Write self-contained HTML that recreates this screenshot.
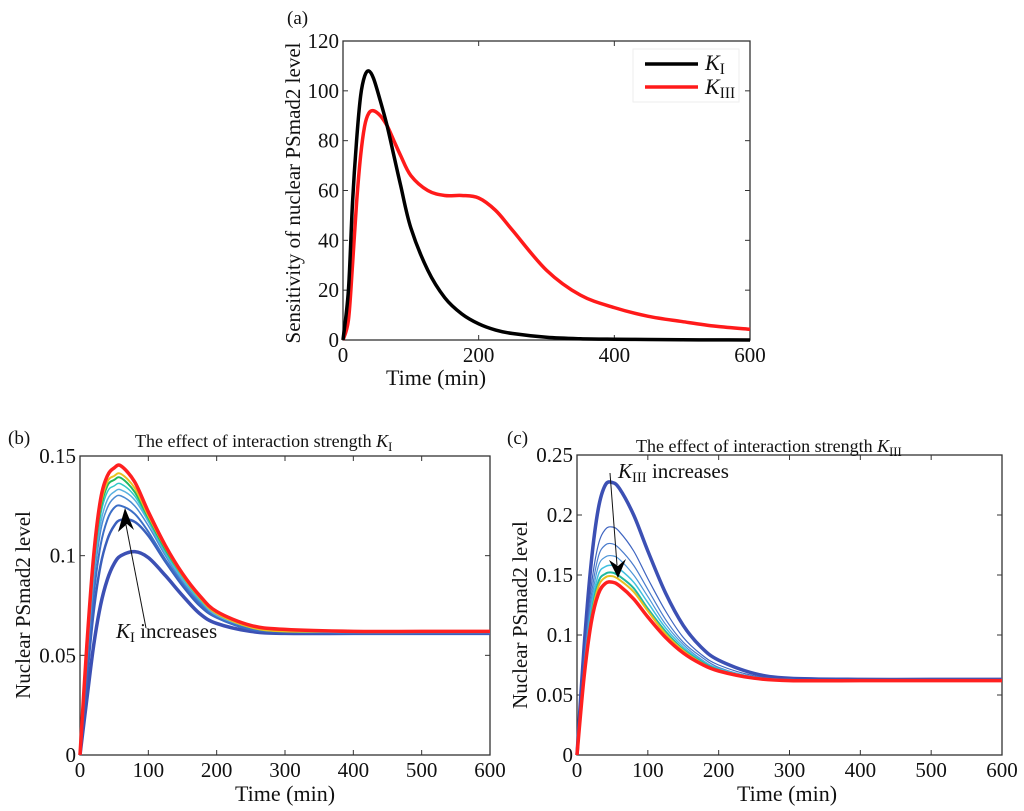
<!DOCTYPE html>
<html><head><meta charset="utf-8"><style>
html,body{margin:0;padding:0;background:#fff;}
svg{display:block;font-family:"Liberation Serif",serif;}
</style></head><body>
<svg id="fig" width="1024" height="811" viewBox="0 0 1024 811" xmlns="http://www.w3.org/2000/svg">
<g id="pa"></g>
<g id="pb"></g>
<g id="pc"></g>
</svg>
<script>
// Panel (a) data
const timeA = [0,8,14,20,26,32,38,45,55,65,75,85,100,125,150,175,200,225,250,300,350,400,450,500,550,600];
const kI   = [0,20,55,80,98,106,108,105,96,86,74,62,45,28,17,10.5,6.5,4,2.6,1.1,0.5,0.3,0.2,0.1,0.05,0];
const kIII = [0,8,30,55,74,86,91,92,90,86,80,74,66,60,58,58,57,52,44,28,18,13,9.5,7.4,5.5,4.3];
const xTicksA = [0,200,400,600];
const yTicksA = [0,20,40,60,80,100,120];

// Panel (b)/(c) shared time points
const timeBC = [0,10,20,30,40,50,60,80,100,125,150,175,200,250,300,400,500,600];
const xTicksBC = [0,100,200,300,400,500,600];
const yTicksB = [0,0.05,0.1,0.15];
const yTicksC = [0,0.05,0.1,0.15,0.2,0.25];

// Panel (b) curves, from lowest (blue) to highest (red)
const b1 = [0,.028,.055,.075,.088,.096,.100,.102,.099,.090,.080,.071,.066,.062,.061,.061,.061,.061];
const b2 = [0,.038,.072,.095,.108,.115,.118,.117,.110,.097,.085,.075,.069,.063,.0615,.061,.061,.061];
const b3 = [0,.043,.080,.105,.118,.124,.125,.121,.112,.098,.086,.076,.069,.063,.062,.061,.061,.061];
const b4 = [0,.046,.086,.112,.124,.129,.130,.125,.115,.100,.087,.077,.070,.064,.062,.0615,.0615,.0615];
const b5 = [0,.048,.090,.116,.128,.132,.133,.128,.117,.101,.088,.078,.070,.064,.062,.0615,.0615,.0615];
const b6 = [0,.050,.093,.120,.132,.135,.136,.130,.118,.102,.089,.078,.071,.064,.062,.062,.062,.062];
const b7 = [0,.052,.096,.123,.135,.138,.139,.132,.119,.103,.090,.079,.071,.064,.062,.062,.062,.062];
const b8 = [0,.053,.098,.125,.137,.140,.141,.134,.120,.104,.090,.079,.071,.064,.062,.062,.062,.062];
const b9 = [0,.055,.100,.128,.140,.144,.145,.137,.122,.105,.091,.080,.072,.065,.063,.062,.062,.062];

// Panel (c) curves, from highest (blue) to lowest (red)
const c1 = [0,.090,.160,.205,.225,.227,.222,.200,.170,.135,.108,.090,.079,.068,.064,.063,.063,.063];
const c2 = [0,.080,.140,.175,.188,.190,.186,.170,.147,.120,.098,.084,.075,.066,.063,.063,.063,.063];
const c3 = [0,.076,.132,.165,.175,.176,.172,.158,.138,.113,.094,.082,.073,.065,.063,.062,.062,.062];
const c4 = [0,.073,.126,.157,.165,.166,.163,.150,.132,.109,.092,.080,.072,.065,.063,.062,.062,.062];
const c5 = [0,.070,.121,.150,.157,.158,.155,.144,.127,.106,.090,.079,.072,.065,.062,.062,.062,.062];
const c6 = [0,.068,.116,.144,.151,.152,.149,.139,.122,.103,.088,.078,.071,.064,.062,.062,.062,.062];
const c7 = [0,.067,.113,.140,.148,.149,.146,.136,.120,.101,.087,.077,.070,.064,.062,.062,.062,.062];
const c8 = [0,.065,.110,.134,.143,.144,.141,.130,.115,.098,.085,.076,.070,.064,.062,.062,.062,.062];

const NS = "http://www.w3.org/2000/svg";
function mk(tag, attrs, parent, text){
  const e = document.createElementNS(NS, tag);
  for (const k in attrs) e.setAttribute(k, attrs[k]);
  if (text !== undefined) e.textContent = text;
  parent.appendChild(e);
  return e;
}
function pathFrom(xs, ys, sx, sy){
  const P = xs.map((x,i)=>[sx(x), sy(ys[i])]);
  let d = "M"+P[0][0].toFixed(2)+","+P[0][1].toFixed(2);
  for (let i=0;i<P.length-1;i++){
    const p0=P[Math.max(0,i-1)], p1=P[i], p2=P[i+1], p3=P[Math.min(P.length-1,i+2)];
    const c1x=p1[0]+(p2[0]-p0[0])/6, c1y=p1[1]+(p2[1]-p0[1])/6;
    const c2x=p2[0]-(p3[0]-p1[0])/6, c2y=p2[1]-(p3[1]-p1[1])/6;
    d += " C"+c1x.toFixed(2)+","+c1y.toFixed(2)+" "+c2x.toFixed(2)+","+c2y.toFixed(2)+" "+p2[0].toFixed(2)+","+p2[1].toFixed(2);
  }
  return d;
}
function axes(g, box, xT, yT, xMax, yMax, yFmt){
  const sx = v => box.x0 + (v/xMax)*(box.x1-box.x0);
  const sy = v => box.y1 - (v/yMax)*(box.y1-box.y0);
  const frame = mk("rect",{x:box.x0,y:box.y0,width:box.x1-box.x0,height:box.y1-box.y0,fill:"none",stroke:"#333","stroke-width":1.3},g);
  
  
  xT.forEach(v=>{
    const x=sx(v);
    mk("line",{x1:x,y1:box.y1,x2:x,y2:box.y1-5,stroke:"#333"},g);
    mk("line",{x1:x,y1:box.y0,x2:x,y2:box.y0+5,stroke:"#333"},g);
    const t = mk("text",{x:x,y:box.y1+22,"font-size":21,"text-anchor":"middle",fill:"#111"},g,String(v));
    
    
  });
  yT.forEach(v=>{
    const y=sy(v);
    mk("line",{x1:box.x0,y1:y,x2:box.x0+5,y2:y,stroke:"#333"},g);
    mk("line",{x1:box.x1,y1:y,x2:box.x1-5,y2:y,stroke:"#333"},g);
    const t = mk("text",{x:box.x0-4,y:y+7,"font-size":21,"text-anchor":"end",fill:"#111"},g,yFmt(v));
    
    
  });
  return {sx,sy};
}
function curve(g, xs, ys, s, color, w, name){
  const p = mk("path",{d:pathFrom(xs,ys,s.sx,s.sy),fill:"none",stroke:color,"stroke-width":w,"stroke-linejoin":"round"},g);
  
  
}
function label(g, x, y, txt, size, name, extra){
  const t = mk("text", Object.assign({x:x,y:y,"font-size":size,fill:"#111"}, extra||{}), g, txt);
  
  
  return t;
}
function kLabel(g, x, y, pre, sub, post, size, name){
  const t = mk("text",{x:x,y:y,"font-size":size,fill:"#111"},g);
  
  
  if (pre) mk("tspan",{},t,pre);
  mk("tspan",{"font-style":"italic"},t,"K");
  mk("tspan",{"font-size":size*0.7,dy:4},t,sub);
  if (post) mk("tspan",{dy:-4},t,post);
  return t;
}

// ---------- Panel A ----------
(function(){
  const g = document.getElementById("pa");
  const box = {x0:343,x1:750,y0:41,y1:340};
  const s = axes(g, box, xTicksA, yTicksA, 600, 120, v=>String(v));
  curve(g, timeA, kIII, s, "#ff1a1a", 3.5, "line-k3");
  curve(g, timeA, kI, s, "#000", 3.5, "line-k1");
  label(g, 287, 24, "(a)", 19, "panel-a-label");
  label(g, 436, 385, "Time (min)", 22, "x-axis-title", {"text-anchor":"middle"});
  label(g, 0, 0, "Sensitivity of nuclear PSmad2 level", 21, "y-axis-title", {"text-anchor":"middle", transform:"translate(300,193) rotate(-90)"});
  const lg = mk("g",{},g);
  
  
  mk("rect",{x:633,y:49,width:106,height:53,fill:"#fff",stroke:"#eee"},lg);
  mk("line",{x1:645,y1:64,x2:698,y2:64,stroke:"#000","stroke-width":3.5},lg);
  mk("line",{x1:645,y1:87,x2:698,y2:87,stroke:"#ff1a1a","stroke-width":3.5},lg);
  kLabel(lg, 705, 70, "", "I", "", 22, "legend-entry-k1");
  kLabel(lg, 705, 94, "", "III", "", 22, "legend-entry-k3");
})();

// ---------- Panel B ----------
(function(){
  const g = document.getElementById("pb");
  const box = {x0:80,x1:490,y0:456,y1:755};
  const s = axes(g, box, xTicksBC, yTicksB, 600, 0.15, v=>String(v));
  const series = [b1,b2,b3,b4,b5,b6,b7,b8,b9];
  const cols = ["#3c50b4","#3a5fbc","#3b6ec6","#4a8ad2","#5ab0e0","#30c8c8","#20b860","#e8c020","#ff2020"];
  const ws = [3.5,2.5,2,1.5,1.5,1.5,2,2,3.5];
  series.forEach((d,i)=>curve(g, timeBC, d, s, cols[i], ws[i], "curve-b-"+(i+1)));
  label(g, 8, 444, "(b)", 19, "panel-b-label");
  kLabel(g, 135, 447, "The effect of interaction strength ", "I", "", 18, "panel-b-title");
  label(g, 285, 801, "Time (min)", 22, "x-axis-title", {"text-anchor":"middle"});
  label(g, 0, 0, "Nuclear PSmad2 level", 21, "y-axis-title", {"text-anchor":"middle", transform:"translate(30,605) rotate(-90)"});
  mk("line",{x1:146,y1:628,x2:126,y2:525,stroke:"#111","stroke-width":1},g);
  mk("polygon",{points:"125,508 118,532 127,524 134,530",fill:"#000"},g);
  kLabel(g, 116, 638, "", "I", " increases", 21, "annotation-k1-increases");
})();

// ---------- Panel C ----------
(function(){
  const g = document.getElementById("pc");
  const box = {x0:577,x1:1002,y0:455,y1:755};
  const s = axes(g, box, xTicksBC, yTicksC, 600, 0.25, v=>String(v));
  const series = [c1,c2,c3,c4,c5,c6,c7,c8];
  const cols = ["#3c50b4","#3e64c0","#4a7ccc","#4e96d8","#40c0e0","#20b8a0","#e8c020","#ff2020"];
  const ws = [3.5,1.2,1.2,1.2,1.5,2,2,3.5];
  series.forEach((d,i)=>curve(g, timeBC, d, s, cols[i], ws[i], "curve-c-"+(i+1)));
  label(g, 507, 444, "(c)", 19, "panel-c-label");
  kLabel(g, 636, 452, "The effect of interaction strength ", "III", "", 18, "panel-c-title");
  label(g, 787, 801, "Time (min)", 22, "x-axis-title", {"text-anchor":"middle"});
  label(g, 0, 0, "Nuclear PSmad2 level", 21, "y-axis-title", {"text-anchor":"middle", transform:"translate(527,615) rotate(-90)"});
  mk("line",{x1:610,y1:473,x2:617,y2:565,stroke:"#111","stroke-width":1},g);
  mk("polygon",{points:"618,578 609,560 618,566 626,559",fill:"#000"},g);
  kLabel(g, 618, 478, "", "III", " increases", 21, "annotation-k3-increases");
})();
</script>
</body></html>
